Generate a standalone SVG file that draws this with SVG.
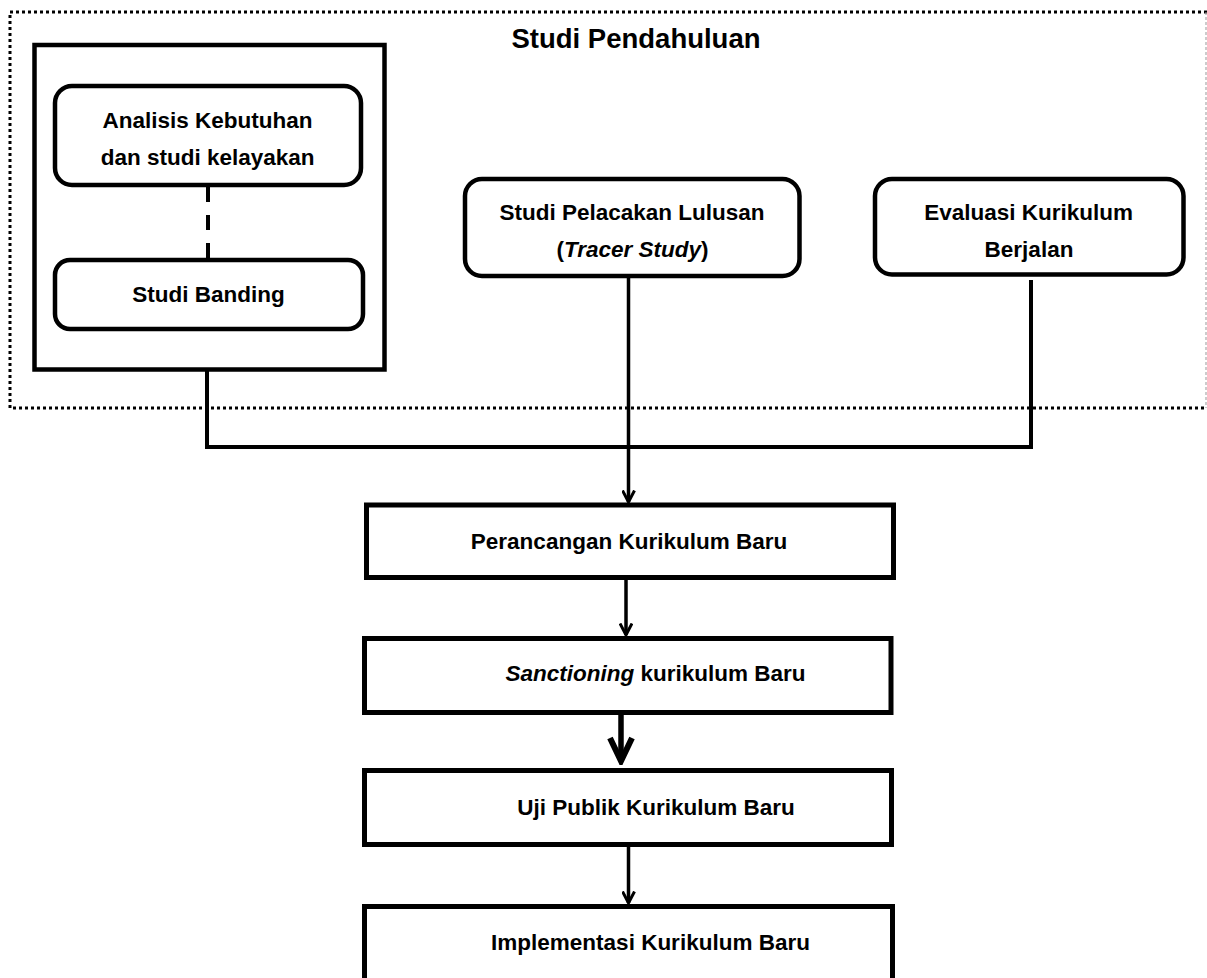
<svg xmlns="http://www.w3.org/2000/svg" width="1207" height="978" viewBox="0 0 1207 978">
  <style>
    .t { font-family: "Liberation Sans", Arial, sans-serif; font-weight: bold; font-size: 22.5px; fill: #000; text-anchor: middle; }
    .title { font-size: 27.5px; }
    .rnd { fill: #fff; stroke: #000; stroke-width: 4.5; }
    .box { fill: #fff; stroke: #000; stroke-width: 5; }
    .ln { fill: none; stroke: #000; stroke-width: 4; }
    .arr { fill: none; stroke: #000; stroke-width: 3.5; marker-end: url(#chev); }
    .arrT { fill: none; stroke: #000; stroke-width: 5.5; marker-end: url(#chevT); }
  </style>
  <defs>
    <marker id="chev" viewBox="0 0 14 14" refX="12.5" refY="7" markerWidth="14" markerHeight="14" markerUnits="userSpaceOnUse" orient="auto">
      <path d="M1,1 L12.5,7 L1,13" fill="none" stroke="#000" stroke-width="3"/>
    </marker>
    <marker id="chevT" viewBox="0 0 30 28" refX="26" refY="14" markerWidth="30" markerHeight="28" markerUnits="userSpaceOnUse" orient="auto">
      <path d="M3,3 L26,14 L3,25" fill="none" stroke="#000" stroke-width="6" stroke-linejoin="miter"/>
    </marker>
  </defs>
  <rect width="1207" height="978" fill="#fff"/>

  <g id="studi-pendahuluan">
    <path d="M1207,12 L10,12 L10,408 L1207,408" fill="none" stroke="#000" stroke-width="3" stroke-dasharray="3 3"/>
    <line x1="1206" y1="12" x2="1206" y2="408" stroke="#999" stroke-width="1" stroke-dasharray="3 2"/>
    <text class="t title" x="636" y="48">Studi Pendahuluan</text>
  </g>

  <g id="kelompok-kiri">
    <rect x="34.5" y="45" width="350" height="324.5" fill="#fff" stroke="#000" stroke-width="4.5"/>
  </g>

  <g id="connectors">
    <line class="ln" x1="208" y1="187" x2="208" y2="258" stroke-dasharray="15 13"/>
    <polyline class="ln" points="207,369 207,447 1031,447 1031,280"/>
    <line class="arr" x1="628.5" y1="278" x2="628.5" y2="502"/>
    <line class="arr" x1="626" y1="580" x2="626" y2="635"/>
    <line x1="621" y1="744" x2="621" y2="765" stroke="#c8c8c8" stroke-width="3"/>
    <line class="arrT" x1="621" y1="715" x2="621" y2="761"/>
    <line class="arr" x1="628.5" y1="847" x2="628.5" y2="903"/>
  </g>

  <g id="analisis">
    <rect class="rnd" x="55" y="86" width="306" height="99" rx="17"/>
    <text class="t" x="207.5" y="128">Analisis Kebutuhan</text>
    <text class="t" x="207.7" y="165">dan studi kelayakan</text>
  </g>

  <g id="studi-banding">
    <rect class="rnd" x="55" y="260" width="308" height="69" rx="15"/>
    <text class="t" x="208.5" y="301.5">Studi Banding</text>
  </g>

  <g id="tracer">
    <rect class="rnd" x="465" y="179" width="334.5" height="97" rx="17"/>
    <text class="t" x="632" y="220">Studi Pelacakan Lulusan</text>
    <text class="t" x="632.5" y="257">(<tspan font-style="italic">Tracer Study</tspan>)</text>
  </g>

  <g id="evaluasi">
    <rect class="rnd" x="875" y="179" width="308.5" height="95.5" rx="17"/>
    <text class="t" x="1028.7" y="220">Evaluasi Kurikulum</text>
    <text class="t" x="1029" y="257">Berjalan</text>
  </g>

  <g id="perancangan">
    <rect class="box" x="366.5" y="505" width="527" height="72.5"/>
    <text class="t" x="629" y="549">Perancangan Kurikulum Baru</text>
  </g>

  <g id="sanctioning">
    <rect class="box" x="364.5" y="638.5" width="526.5" height="74"/>
    <text class="t" x="655.5" y="681"><tspan font-style="italic">Sanctioning</tspan> kurikulum Baru</text>
  </g>

  <g id="uji-publik">
    <rect class="box" x="364.5" y="770.5" width="527" height="74"/>
    <text class="t" x="656" y="815">Uji Publik Kurikulum Baru</text>
  </g>

  <g id="implementasi">
    <rect class="box" x="364.5" y="906.5" width="528" height="90"/>
    <text class="t" x="650.5" y="950">Implementasi Kurikulum Baru</text>
  </g>
</svg>
